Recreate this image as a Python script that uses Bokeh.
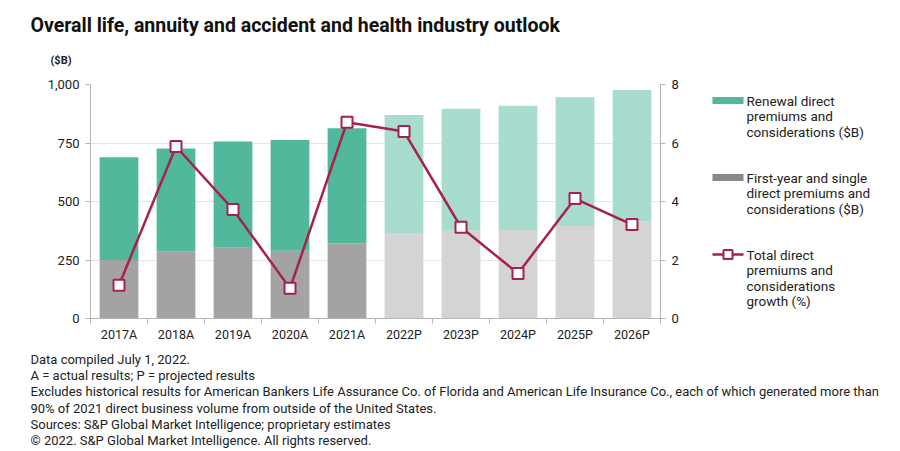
from bokeh.plotting import figure
from bokeh.models import (Range1d, LinearAxis, FixedTicker, NumeralTickFormatter,
                          ColumnDataSource)
from bokeh.layouts import column, row
from bokeh.core.properties import value
from bokeh.embed import file_html
from bokeh.resources import INLINE

# ---- data ----
years = ["2017A", "2018A", "2019A", "2020A", "2021A",
         "2022P", "2023P", "2024P", "2025P", "2026P"]
status = ["A", "A", "A", "A", "A", "P", "P", "P", "P", "P"]
first_year = [250, 287, 302, 290, 321, 362, 375, 378, 395, 415]
renewal = [439, 440, 454, 473, 492, 508, 521, 531, 551, 562]
growth = [1.14, 5.88, 3.73, 1.03, 6.71, 6.39, 3.12, 1.54, 4.10, 3.21]
left_ticks = [0, 250, 500, 750, 1000]
right_ticks = [0, 2, 4, 6, 8]

title = "Overall life, annuity and accident and health industry outlook"
unit_label = "($B)"
legend_lines = [
    ["Renewal direct", "premiums and", "considerations ($B)"],
    ["First-year and single", "direct premiums and", "considerations ($B)"],
    ["Total direct", "premiums and", "considerations", "growth (%)"],
]
notes = [
    "Data compiled July 1, 2022.",
    "A = actual results; P = projected results",
    "Excludes historical results for American Bankers Life Assurance Co. of Florida and American Life Insurance Co., each of which generated more than",
    "90% of 2021 direct business volume from outside of the United States.",
    "Sources: S&P Global Market Intelligence; proprietary estimates",
    "\u00a9 2022. S&P Global Market Intelligence. All rights reserved.",
]

# ---- styles ----
TEAL_A, TEAL_P = "#52b89b", "#a8dccf"
GRAY_A, GRAY_P = "#a3a3a3", "#d4d4d4"
LEG_GRAY = "#8a8a8a"
MAROON = "#a5224f"
FONT = "Roboto"
TXT = "#222222"
AX = "#b5b5b5"

W = 900
HEAD_H, MID_H, NOTE_H = 70, 280, 101
CHART_W = 700
LEG_W = W - CHART_W
FL, FR, FT, FB = 90, 660, 14, 248   # frame edges inside the middle row

xs = list(range(len(years)))
tops = [a + b for a, b in zip(first_year, renewal)]
src = ColumnDataSource(dict(
    x=xs, fy=first_year, top=tops, growth=growth,
    fyc=[GRAY_A if s == "A" else GRAY_P for s in status],
    rnc=[TEAL_A if s == "A" else TEAL_P for s in status],
))


def blank(w, h, top=0, bottom=0):
    f = figure(width=w, height=h, x_range=Range1d(0, w), y_range=Range1d(h - bottom, top),
               output_backend="svg", toolbar_location=None, min_border=0,
               min_border_top=top, min_border_bottom=bottom,
               x_axis_type=None, y_axis_type=None)
    f.outline_line_color = None
    f.background_fill_color = "white"
    f.border_fill_color = "white"
    return f


def texts(f, xs_, ys_, t, size, bold=False, color=TXT):
    f.text(x=xs_, y=ys_, text=t, text_font=value(FONT), text_font_size=value(size),
           text_font_style="bold" if bold else "normal", text_color=color,
           text_baseline="middle", text_align="left")


# ---- header ----
head = blank(W, HEAD_H)
texts(head, [30], [25], [title], "19.5px", bold=True, color="#111111")
texts(head, [50], [60], [unit_label], "11px", bold=True)

# ---- chart ----
p = figure(width=CHART_W, height=MID_H, x_range=Range1d(-0.5, len(years) - 0.5),
           y_range=Range1d(0, 1000), output_backend="svg", toolbar_location=None,
           min_border_left=FL, min_border_right=CHART_W - FR,
           min_border_top=FT, min_border_bottom=MID_H - FB)
p.extra_y_ranges = {"g": Range1d(0, 8)}
p.outline_line_color = None
p.background_fill_color = "white"
p.border_fill_color = "white"

p.vbar(x="x", bottom=0, top="fy", width=0.68, fill_color="fyc", line_color=None, source=src)
p.vbar(x="x", bottom="fy", top="top", width=0.68, fill_color="rnc", line_color=None, source=src)
p.line(x="x", y="growth", y_range_name="g", line_color=MAROON, line_width=2.5, source=src)
p.scatter(x="x", y="growth", y_range_name="g", marker="square", size=11,
          fill_color="white", line_color=MAROON, line_width=2, source=src)

xa = p.xaxis[0]
xa.ticker = FixedTicker(ticks=xs, minor_ticks=[i - 0.5 for i in range(len(years) + 1)])
xa.major_label_overrides = {i: y for i, y in enumerate(years)}
xa.major_tick_out = 0
xa.major_tick_in = 0
xa.minor_tick_out = 5
xa.minor_tick_in = 0
xa.minor_tick_line_color = AX
xa.axis_line_color = AX
xa.major_label_standoff = 3
xa.major_label_text_font = FONT
xa.major_label_text_font_size = "12.5px"
xa.major_label_text_color = TXT

ya = p.yaxis[0]
ya.ticker = FixedTicker(ticks=left_ticks)
ya.formatter = NumeralTickFormatter(format="0,0")
ya.major_tick_out = 5
ya.major_tick_in = 0
ya.minor_tick_out = 0
ya.minor_tick_in = 0
ya.major_tick_line_color = AX
ya.axis_line_color = AX
ya.major_label_standoff = 6
ya.major_label_text_font = FONT
ya.major_label_text_font_size = "13px"
ya.major_label_text_color = TXT

ra = LinearAxis(y_range_name="g", ticker=FixedTicker(ticks=right_ticks))
ra.major_tick_out = 5
ra.major_tick_in = 0
ra.minor_tick_out = 0
ra.minor_tick_in = 0
ra.major_tick_line_color = AX
ra.axis_line_color = AX
ra.major_label_standoff = 6
ra.major_label_text_font = FONT
ra.major_label_text_font_size = "13px"
ra.major_label_text_color = TXT
p.add_layout(ra, "right")

p.xgrid.grid_line_color = None
p.ygrid.ticker = FixedTicker(ticks=left_ticks)
p.ygrid.grid_line_color = "#e4e4e4"

# ---- legend (local px = page px - 70 vertically, - 700 horizontally) ----
leg = blank(LEG_W, MID_H, top=FT, bottom=MID_H - FB)
leg_y = [30, 107, 184]          # first-line centres
leg_sp = 15.5
PX0, PX1, TX = 12, 43, 46
leg.rect(x=[(PX0 + PX1) / 2] * 2, y=leg_y[:2], width=PX1 - PX0, height=7,
         fill_color=[TEAL_A, LEG_GRAY], line_color=None)
leg.line(x=[PX0, PX1], y=[leg_y[2]] * 2, line_color=MAROON, line_width=2.5)
leg.scatter(x=[(PX0 + PX1) / 2], y=[leg_y[2]], marker="square", size=9,
            fill_color="white", line_color=MAROON, line_width=2)
lx, ly, lt = [], [], []
for k, lines in enumerate(legend_lines):
    for j, t in enumerate(lines):
        lx.append(TX)
        ly.append(leg_y[k] + leg_sp * j)
        lt.append(t)
texts(leg, lx, ly, lt, "13.5px")

# ---- notes ----
note = blank(W, NOTE_H)
texts(note, [30] * len(notes), [9 + 16.2 * i for i in range(len(notes))], notes, "13px")

layout = column(head, row(p, leg), note)
open("out.html", "w").write(file_html(layout, INLINE))
